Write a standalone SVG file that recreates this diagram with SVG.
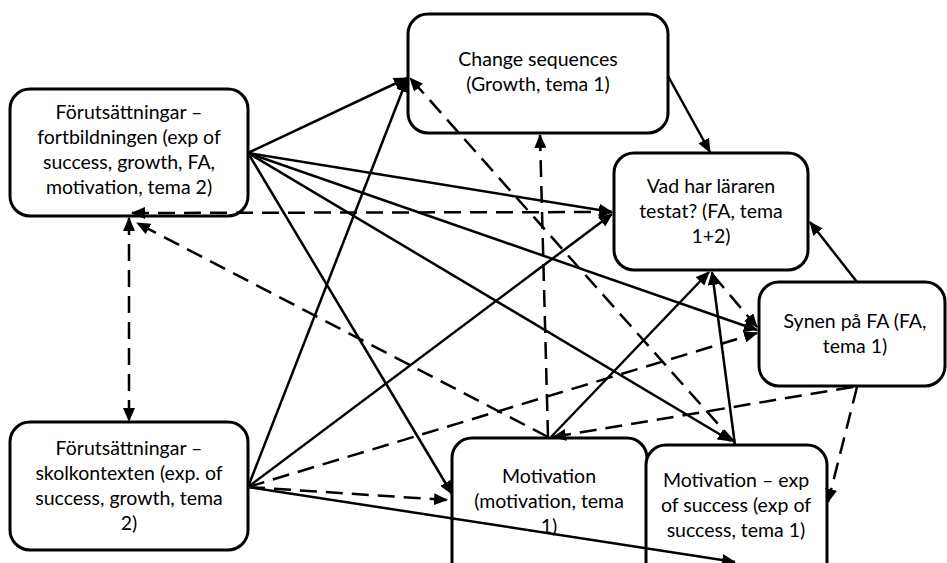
<svg xmlns="http://www.w3.org/2000/svg" width="947" height="563" viewBox="0 0 947 563">
  <style>
    .box { fill: #fff; stroke: #000; stroke-width: 3; }
    .lbl { font-family: Lato, "Liberation Sans", sans-serif; font-size: 19.5px; fill: #000; text-anchor: middle; }
    .edge { fill: none; stroke: #000; stroke-width: 2.5; marker-end: url(#arrow); }
    .dash { stroke-dasharray: 17 9; }
    .both { marker-start: url(#arrow); }
  </style>
  <defs>
    <marker id="arrow" markerUnits="userSpaceOnUse" markerWidth="14" markerHeight="12" refX="13" refY="6" orient="auto-start-reverse">
      <path d="M0,0 L14,6 L0,12 z" fill="#000"/>
    </marker>
  </defs>

  <!-- nodes -->
  <g id="fortbildningen">
    <rect class="box" x="10" y="89" width="238" height="127" rx="20"/>
    <text class="lbl"><tspan x="129" y="119">Förutsättningar –</tspan><tspan x="129" y="144">fortbildningen (exp of</tspan><tspan x="129" y="169">success, growth, FA,</tspan><tspan x="129" y="194">motivation, tema 2)</tspan></text>
  </g>
  <g id="change-sequences">
    <rect class="box" x="408" y="14" width="260" height="119" rx="20"/>
    <text class="lbl"><tspan x="538" y="66">Change sequences</tspan><tspan x="538" y="91">(Growth, tema 1)</tspan></text>
  </g>
  <g id="vad-har-lararen">
    <rect class="box" x="614" y="153" width="194" height="117" rx="20"/>
    <text class="lbl"><tspan x="711" y="193">Vad har läraren</tspan><tspan x="711" y="218">testat? (FA, tema</tspan><tspan x="711" y="243">1+2)</tspan></text>
  </g>
  <g id="synen">
    <rect class="box" x="759" y="282" width="186" height="104" rx="20"/>
    <text class="lbl"><tspan x="855" y="328">Synen på FA (FA,</tspan><tspan x="855" y="353">tema 1)</tspan></text>
  </g>
  <g id="skolkontexten">
    <rect class="box" x="10" y="422" width="238" height="128" rx="20"/>
    <text class="lbl"><tspan x="129" y="455">Förutsättningar –</tspan><tspan x="129" y="480">skolkontexten (exp. of</tspan><tspan x="129" y="505">success, growth, tema</tspan><tspan x="129" y="530">2)</tspan></text>
  </g>
  <g id="motivation">
    <rect class="box" x="452" y="438" width="195" height="150" rx="20"/>
    <text class="lbl"><tspan x="549" y="483">Motivation</tspan><tspan x="549" y="508">(motivation, tema</tspan><tspan x="549" y="533">1)</tspan></text>
  </g>
  <g id="motivation-exp">
    <rect class="box" x="646" y="445" width="181" height="150" rx="20"/>
    <text class="lbl"><tspan x="736" y="487">Motivation – exp</tspan><tspan x="736" y="512">of success (exp of</tspan><tspan x="736" y="537">success, tema 1)</tspan></text>
  </g>

  <!-- connectors -->
  <g id="connectors">
    <!-- solid -->
    <line class="edge" x1="248" y1="153" x2="407" y2="78"/>
    <line class="edge" x1="248" y1="153" x2="612" y2="212"/>
    <line class="edge" x1="248" y1="153" x2="757" y2="330"/>
    <line class="edge" x1="248" y1="153" x2="452" y2="494"/>
    <line class="edge" x1="248" y1="153" x2="731" y2="441"/>
    <line class="edge" x1="248" y1="487" x2="407" y2="79"/>
    <line class="edge" x1="248" y1="487" x2="612" y2="214"/>
    <line class="edge" x1="248" y1="487" x2="735" y2="562"/>
    <line class="edge" x1="551" y1="437" x2="709" y2="272"/>
    <line class="edge" x1="735" y1="445" x2="712" y2="272"/>
    <line class="edge" x1="857" y1="282" x2="810" y2="222"/>
    <line class="edge" x1="668" y1="76" x2="710" y2="152"/>
    <!-- dashed -->
    <line class="edge dash" x1="248" y1="487" x2="757" y2="333"/>
    <line class="edge dash" x1="248" y1="487" x2="447" y2="500"/>
    <line class="edge dash both" x1="132" y1="213" x2="612" y2="212"/>
    <line class="edge dash both" x1="129" y1="218" x2="129" y2="421"/>
    <line class="edge dash" x1="548" y1="437" x2="137" y2="223"/>
    <line class="edge dash" x1="853" y1="387" x2="553" y2="437"/>
    <line class="edge dash" x1="857" y1="387" x2="828" y2="502"/>
    <line class="edge dash" x1="548" y1="437" x2="540" y2="135"/>
    <line class="edge dash" x1="735" y1="443" x2="410" y2="78"/>
    <line class="edge dash" x1="713" y1="275" x2="757" y2="327"/>
  </g>
</svg>
